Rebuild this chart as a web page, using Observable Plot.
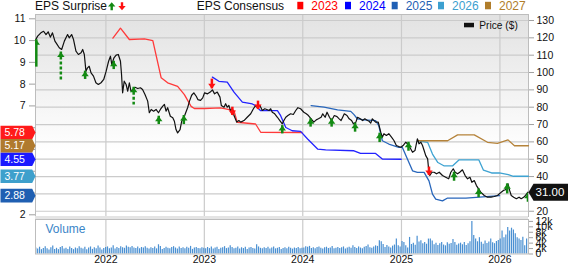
<!DOCTYPE html>
<html><head><meta charset="utf-8">
<script src="https://cdn.jsdelivr.net/npm/d3@7"></script>
<script src="https://cdn.jsdelivr.net/npm/@observablehq/plot@0.6"></script>
<style>
body{margin:0;background:#fff;}
#wrap{position:relative;width:568px;height:264px;overflow:hidden;}
#wrap svg{position:absolute;left:0;}
</style></head><body><div id="wrap"></div>
<script>
// ---------------- DATA ----------------
const price = [["2021-04-16",119.0],["2021-04-23",121.0],["2021-05-05",122.9],["2021-05-15",123.8],["2021-05-24",121.9],["2021-06-01",123.5],["2021-06-09",120.4],["2021-06-17",122.9],["2021-06-26",118.1],["2021-07-04",116.2],["2021-07-12",114.3],["2021-07-21",113.3],["2021-07-31",118.1],["2021-08-06",120.0],["2021-08-12",121.9],["2021-08-18",120.0],["2021-08-27",121.9],["2021-09-03",119.0],["2021-09-12",112.3],["2021-09-21",110.4],["2021-10-01",111.4],["2021-10-07",113.3],["2021-10-13",110.4],["2021-10-19",100.8],["2021-10-25",102.7],["2021-10-31",103.6],["2021-11-07",99.8],["2021-11-16",97.9],["2021-11-25",94.1],["2021-12-04",93.1],["2021-12-14",94.1],["2021-12-24",96.0],["2022-01-02",100.8],["2022-01-11",106.5],["2022-01-18",109.4],["2022-01-23",104.6],["2022-01-31",108.5],["2022-02-08",110.0],["2022-02-16",110.4],["2022-02-24",106.5],["2022-02-28",98.9],["2022-03-04",88.3],["2022-03-10",95.0],["2022-03-17",93.1],["2022-03-23",89.2],["2022-03-29",94.1],["2022-04-04",89.2],["2022-04-12",90.2],["2022-04-19",91.5],["2022-04-29",90.8],["2022-05-09",91.2],["2022-05-17",90.2],["2022-05-26",87.3],["2022-06-05",83.5],["2022-06-11",76.8],["2022-06-18",78.7],["2022-06-27",77.7],["2022-07-06",78.7],["2022-07-15",76.8],["2022-07-22",78.7],["2022-07-31",80.6],["2022-08-06",81.6],["2022-08-12",77.7],["2022-08-18",79.7],["2022-08-28",74.8],["2022-09-06",73.9],["2022-09-12",71.9],["2022-09-18",67.1],["2022-09-24",65.2],["2022-10-03",67.1],["2022-10-09",71.9],["2022-10-17",73.9],["2022-10-26",77.7],["2022-10-31",79.7],["2022-11-07",83.5],["2022-11-15",86.9],["2022-11-23",88.3],["2022-12-02",86.3],["2022-12-08",84.4],["2022-12-18",83.9],["2022-12-26",85.4],["2023-01-02",88.3],["2023-01-13",87.7],["2023-01-23",88.7],["2023-01-31",90.0],["2023-02-08",87.7],["2023-02-18",88.7],["2023-02-28",85.8],["2023-03-05",81.0],["2023-03-15",80.0],["2023-03-21",82.0],["2023-03-27",80.0],["2023-04-02",81.0],["2023-04-08",78.1],["2023-04-15",79.1],["2023-04-21",75.2],["2023-05-01",71.4],["2023-05-09",72.3],["2023-05-16",71.4],["2023-05-28",72.3],["2023-06-09",74.2],["2023-06-22",76.2],["2023-07-02",79.1],["2023-07-10",81.0],["2023-07-17",80.0],["2023-07-26",81.0],["2023-08-04",78.1],["2023-08-13",79.1],["2023-08-23",78.5],["2023-08-29",78.1],["2023-09-04",79.1],["2023-09-10",77.1],["2023-09-19",76.2],["2023-09-29",74.2],["2023-10-08",72.3],["2023-10-17",70.4],["2023-10-23",72.3],["2023-10-30",74.2],["2023-11-07",75.2],["2023-11-17",76.2],["2023-11-27",75.8],["2023-12-06",78.1],["2023-12-14",79.7],["2023-12-24",79.1],["2024-01-05",77.1],["2024-01-14",76.2],["2024-01-22",75.2],["2024-02-01",73.3],["2024-02-11",71.4],["2024-02-20",72.7],["2024-02-28",73.3],["2024-03-09",74.2],["2024-03-15",76.2],["2024-03-24",74.2],["2024-03-31",77.1],["2024-04-09",74.2],["2024-04-17",72.3],["2024-04-27",75.2],["2024-05-07",74.6],["2024-05-15",73.3],["2024-05-22",72.3],["2024-05-28",74.2],["2024-06-03",76.2],["2024-06-13",75.2],["2024-06-21",73.3],["2024-06-30",72.3],["2024-07-07",70.4],["2024-07-16",71.4],["2024-07-22",74.2],["2024-08-01",73.3],["2024-08-10",72.3],["2024-08-18",73.3],["2024-08-28",72.3],["2024-09-03",71.9],["2024-09-09",70.8],["2024-09-15",73.3],["2024-09-27",71.4],["2024-10-07",71.4],["2024-10-16",65.6],["2024-10-22",62.7],["2024-10-28",64.7],["2024-11-06",63.7],["2024-11-15",64.7],["2024-11-25",62.7],["2024-12-04",60.8],["2024-12-13",57.9],["2024-12-22",57.3],["2024-12-30",56.9],["2025-01-07",57.9],["2025-01-17",59.8],["2025-01-23",58.9],["2025-02-01",56.9],["2025-02-11",54.0],["2025-02-20",55.0],["2025-03-01",61.8],["2025-03-07",58.9],["2025-03-14",59.8],["2025-03-20",57.9],["2025-03-26",55.0],["2025-04-01",52.1],["2025-04-08",50.2],["2025-04-11",45.4],["2025-04-16",40.6],["2025-04-24",42.5],["2025-05-02",42.5],["2025-05-11",41.6],["2025-05-21",42.5],["2025-06-02",40.6],["2025-06-14",39.6],["2025-06-25",38.7],["2025-07-03",42.5],["2025-07-12",44.5],["2025-07-19",42.5],["2025-07-28",41.6],["2025-08-05",42.5],["2025-08-15",43.9],["2025-08-25",40.6],["2025-09-03",38.7],["2025-09-12",39.6],["2025-09-19",36.7],["2025-09-28",37.7],["2025-10-06",34.8],["2025-10-14",32.9],["2025-10-22",31.0],["2025-11-04",29.1],["2025-11-16",28.1],["2025-11-29",28.1],["2025-12-11",28.5],["2025-12-23",29.1],["2026-01-06",31.0],["2026-01-14",32.0],["2026-01-22",32.4],["2026-01-31",35.8],["2026-02-06",32.0],["2026-02-12",29.1],["2026-02-21",28.1],["2026-03-03",27.2],["2026-03-13",28.1],["2026-03-21",27.2],["2026-03-30",28.1],["2026-04-06",29.1],["2026-04-15",31.0]];
const lastPrice = 31.00;

const eps2023 = [["2022-01-27",10.11],["2022-02-24",10.57],["2022-03-29",10.05],["2022-05-24",10.08],["2022-06-24",10.0],["2022-07-25",8.29],["2022-08-18",8.06],["2022-09-24",7.9],["2022-10-19",7.52],["2022-11-13",6.98],["2022-11-25",6.88],["2023-01-02",6.88],["2023-03-02",6.91],["2023-03-21",6.86],["2023-04-21",6.78],["2023-05-03",6.25],["2023-07-10",6.17],["2023-07-29",5.79],["2023-12-29",5.78]];
const eps2024 = [["2023-01-31",8.32],["2023-02-24",8.13],["2023-03-27",8.09],["2023-04-21",7.63],["2023-05-22",7.17],["2023-06-28",7.09],["2023-07-10",7.01],["2023-07-29",6.78],["2023-09-29",6.78],["2023-10-11",6.55],["2023-10-30",6.01],["2023-11-23",5.86],["2023-12-24",5.83],["2024-01-19",5.48],["2024-02-25",5.02],["2024-03-26",4.98],["2024-07-09",4.94],["2024-08-02",4.82],["2024-09-27",4.82],["2024-10-22",4.56],["2024-12-31",4.55]];
const eps2025 = [["2024-02-01",7.01],["2024-03-20",6.94],["2024-05-09",6.82],["2024-06-27",6.75],["2024-07-09",6.60],["2024-07-22",6.40],["2024-08-15",6.36],["2024-09-27",6.32],["2024-10-09",6.09],["2024-10-22",5.40],["2024-11-15",5.25],["2024-12-22",5.10],["2025-01-04",5.10],["2025-01-23",4.56],["2025-02-11",4.02],["2025-03-01",3.95],["2025-03-26",3.95],["2025-04-13",3.56],["2025-04-26",2.95],["2025-05-08",2.72],["2025-06-02",2.64],["2025-06-21",2.77],["2025-08-28",2.77],["2025-12-31",2.88]];
const eps2026 = [["2025-03-03",5.40],["2025-04-08",5.33],["2025-04-26",4.79],["2025-05-16",4.40],["2025-06-07",4.25],["2025-07-10",4.25],["2025-08-02",4.52],["2025-10-15",4.52],["2025-11-01",4.05],["2025-12-01",3.92],["2025-12-30",3.92],["2026-02-01",3.84],["2026-02-20",3.77],["2026-04-17",3.77]];
const eps2027 = [["2025-03-03",5.40],["2025-06-21",5.40],["2025-07-28",5.67],["2025-09-28",5.67],["2025-11-16",5.33],["2025-12-23",5.28],["2026-01-31",5.44],["2026-02-24",5.17],["2026-04-17",5.17]];

const consensusYears = ["2023","2024","2025","2026","2027"];
const consensusLatest = [5.78, 4.55, 2.88, 3.77, 5.17];

const surpriseDates = ["2021-04-18","2021-07-18","2021-10-16","2022-01-30","2022-04-14","2022-07-16","2022-10-17","2023-01-29","2023-04-15","2023-07-19","2023-10-17","2024-01-30","2024-04-17","2024-07-13","2024-10-12","2025-01-27","2025-04-13","2025-07-15","2025-10-14","2026-01-28","2026-04-15"];
const surpriseDir = ["up","up","up","up","up","up","up","down","down","down","up","up","up","up","up","up","down","up","up","up","up"];
const surpriseTip = [118.9,111.9,100.8,106.5,91.5,74.8,75.2,90.6,75.2,78.7,69.4,73.3,73.3,70.8,65.0,59.8,40.6,42.5,32.9,35.8,30.4];
const surpriseBase = [103.1,95.6,96.0,101.7,81.2,70.0,70.0,96.2,80.0,83.5,64.6,68.5,68.5,65.6,59.6,54.6,45.5,37.3,27.8,30.0,25.2];
const surpriseDashed = [false,true,false,false,true,false,false,false,false,false,false,false,false,false,false,false,false,false,false,false,false];

const volumeStart = "2021-04-16"; // weekly bars (Fridays), thousands
const vol2021 = [2.2,1.8,2.5,1.6,2.0,2.7,1.9,1.5,2.3,2.9,1.7,2.1,1.6,2.4,2.8,1.8,2.1,1.7,2.6,2.0,1.6,2.2,1.9,2.7,2.1,1.8,2.5,1.6,2.2,2.6,1.7,2.3,1.9,2.9,2.2,1.5,2.0,2.4];
const vol2022 = [2.6,1.9,2.2,3.0,1.8,2.4,2.0,2.7,2.3,2.1,2.9,2.5,2.3,2.8,2.2,2.0,2.6,1.9,2.4,2.2,2.7,2.1,1.8,2.3,2.0,2.6,1.9,3.4,2.8,1.7,2.0,2.5,2.1,1.9,2.4,2.7,2.2,1.8,2.6,2.0,2.3,1.9,2.5,2.1,2.8,1.7,2.2,2.4,2.0,1.9,2.3,2.1];
const vol2023 = [1.9,2.4,2.0,2.6,1.8,2.2,2.5,1.7,2.1,2.3,2.7,2.0,2.2,3.0,2.4,1.9,2.1,2.6,1.8,2.3,2.0,2.5,1.7,2.2,2.4,2.0,1.8,3.4,2.6,2.1,1.9,2.3,2.0,2.5,1.8,2.2,2.6,1.9,2.1,2.4,1.7,2.0,2.3,1.9,2.5,2.1,1.8,2.2,2.0,2.4,1.9,2.1];
const vol2024 = [2.2,2.7,2.5,2.8,2.0,2.3,1.9,2.4,2.6,2.1,1.8,2.3,2.5,2.0,2.2,2.8,1.9,2.1,2.4,2.0,2.3,2.6,1.8,2.2,2.5,2.1,3.0,2.4,2.0,2.6,2.2,1.9,2.5,2.8,3.3,2.3,2.1,2.6,3.0,2.8,4.9,4.5,3.5,2.4,3.1,2.6,2.2,2.9,3.3,5.5,3.0,2.6];
const vol2025 = [4.6,4.2,3.0,2.2,6.1,3.5,4.0,3.2,6.5,4.4,4.9,3.8,4.2,3.6,5.5,5.5,4.8,3.4,4.0,3.1,3.8,4.2,3.3,3.0,4.1,3.6,3.9,5.3,4.2,3.2,3.7,4.0,3.4,4.2,3.1,3.8,4.5,12.0,6.8,5.5,4.5,6.0,4.3,3.6,4.8,3.9,4.4,5.5,4.1,3.8,4.6,5.0];
const vol2026 = [5.5,8.5,6.0,7.0,9.8,8.5,9.5,8.8,7.5,6.0,5.5,5.0,6.2,3.0,5.5];

const epsTicks = [2,3,4,5,6,7,8,9,10,11];
const priceTicks = [20,30,40,50,60,70,80,90,100,110,120,130];
const volumeTicks = [0,2,4,6,8,10,12];
const yearTicks = ["2022-01-01","2023-01-01","2024-01-01","2025-01-01","2026-01-01"];

// ---------------- STYLE / LAYOUT ----------------
const FONT = '"Liberation Sans", Arial, Helvetica, sans-serif';
const GREEN = "#138a13", RED = "#ff1010";
const lineColors = {"2023":"#ff3a3a","2024":"#2323ff","2025":"#2866bb","2026":"#3ea3d2","2027":"#b5833a"};
const tagColors = {"2023":"#ff1a1a","2024":"#1a1aff","2025":"#1f5fb2","2026":"#3ea0cc","2027":"#b07a2e"};
const legendColors = {"2023":"#ff0000","2024":"#0000ff","2025":"#1f5fb4","2026":"#3ca0d0","2027":"#b07d2b"};
const GRID = "#cbcbcb";

const xDomain = [new Date("2021-04-15"), new Date("2026-04-17")];
const years = yearTicks.map(d => new Date(d));
// left EPS axis is drawn on the price scale
const eps0 = 17.95, epsK = 12.559;
const epsToPrice = e => eps0 + (e - 2) * epsK;
const priceToEps = p => (p - eps0) / epsK + 2;
// labels hidden behind the value tags in the reference
const hiddenEps = [3,4,5,6];
const hiddenPrice = [30];

const priceData = price.map(([d, v]) => ({date: new Date(d), v}));
const consensus = {"2023": eps2023, "2024": eps2024, "2025": eps2025, "2026": eps2026, "2027": eps2027};
const arrows = surpriseDates.map((d, i) => ({date: new Date(d), dir: surpriseDir[i], tip: surpriseTip[i], base: surpriseBase[i], dashed: surpriseDashed[i]}));

const vDates = d3.utcFriday.range(new Date(volumeStart), new Date("2026-04-12"));
const vVals = [].concat(vol2021, vol2022, vol2023, vol2024, vol2025, vol2026);
const volData = vDates.slice(0, vVals.length).map((d, i) => ({date: d, v: vVals[i]}));

const upHead = {draw(c){ c.moveTo(0,0); c.lineTo(3.7,5); c.lineTo(-3.7,5); c.closePath(); }};
const downHead = {draw(c){ c.moveTo(0,0); c.lineTo(3.7,-5); c.lineTo(-3.7,-5); c.closePath(); }};
const leftTag = {draw(c){ c.moveTo(-17.5,-6.8); c.lineTo(14.2,-6.8); c.lineTo(17.5,0); c.lineTo(14.2,6.8); c.lineTo(-17.5,6.8); c.closePath(); }};
const rightTag = {draw(c){ c.moveTo(0,0); c.lineTo(5,-8.5); c.lineTo(50,-8.5); c.lineTo(50,8.5); c.lineTo(5,8.5); c.closePath(); }};

function background(index, scales, values, dims) {
  const g = d3.create("svg:g");
  const grad = g.append("defs").append("linearGradient").attr("id","bgGrad")
    .attr("x1",0).attr("x2",0).attr("y1",0).attr("y2",1);
  grad.append("stop").attr("offset","0%").attr("stop-color","#e2e2e2");
  grad.append("stop").attr("offset","68%").attr("stop-color","#ffffff");
  g.append("rect").attr("x",dims.marginLeft).attr("y",dims.marginTop)
    .attr("width",dims.width-dims.marginLeft-dims.marginRight)
    .attr("height",dims.height-dims.marginTop-dims.marginBottom)
    .attr("fill","url(#bgGrad)");
  return g.node();
}

const baseStyle = {background:"transparent", fontFamily: FONT, fontSize:"10.5px", color:"#111", overflow:"visible"};

const lineMarks = consensusYears.map(y => Plot.line(consensus[y], {
  x: d => new Date(d[0]), y: d => epsToPrice(d[1]), stroke: lineColors[y], strokeWidth: 1.3
}));

const tagMarks = consensusYears.flatMap((y, i) => [
  Plot.dot([consensusLatest[i]], {y: d => epsToPrice(d), frameAnchor: "left", dx: -17.5, symbol: leftTag, r: 5, fill: tagColors[y]}),
  Plot.text([consensusLatest[i]], {y: d => epsToPrice(d), frameAnchor: "left", dx: -31, text: d => d.toFixed(2), textAnchor: "start", fill: "white", fontSize: 10.5})
]);

const ups = arrows.filter(a => a.dir === "up"), downs = arrows.filter(a => a.dir === "down");

const main = Plot.plot({
  width: 568, height: 217,
  marginTop: 14, marginBottom: 1, marginLeft: 35, marginRight: 40,
  x: {type: "utc", domain: xDomain, axis: null},
  y: {domain: [16.97, 133.46], axis: null},
  style: baseStyle,
  marks: [
    background,
    Plot.ruleY(priceTicks, {stroke: GRID, strokeWidth: 1.2}),
    Plot.ruleX(years, {stroke: GRID, strokeWidth: 1.2}),
    Plot.frame({stroke: "#bdbdbd"}),
    ...lineMarks,
    Plot.line(priceData, {x: "date", y: "v", stroke: "#111", strokeWidth: 1.2}),
    Plot.ruleX(arrows.filter(a => !a.dashed), {x: "date", y1: "tip", y2: "base", stroke: d => d.dir === "up" ? GREEN : RED, strokeWidth: 2.5, clip: "frame"}),
    Plot.ruleX(arrows.filter(a => a.dashed), {x: "date", y1: "tip", y2: "base", stroke: GREEN, strokeWidth: 2.5, strokeDasharray: "3,2", clip: "frame"}),
    Plot.dot(ups, {x: "date", y: "tip", symbol: upHead, r: 3, fill: GREEN, clip: "frame"}),
    Plot.dot(downs, {x: "date", y: "tip", symbol: downHead, r: 3, fill: RED, clip: "frame"}),
    Plot.axisY(epsTicks.map(epsToPrice), {anchor: "left", tickSize: 6, tickPadding: 4, stroke: "#a0a0a0", fill: "#111",
      tickFormat: d => { const e = Math.round(priceToEps(d)); return hiddenEps.includes(e) ? "" : String(e); }, label: null, fontSize: 10.5}),
    Plot.axisY(priceTicks, {anchor: "right", tickSize: 5, tickPadding: 3, stroke: "#a0a0a0", fill: "#111", label: null, fontSize: 10.5,
      tickFormat: d => hiddenPrice.includes(d) ? "" : String(d)}),
    ...tagMarks,
    Plot.dot([lastPrice], {y: d => d, frameAnchor: "right", symbol: rightTag, r: 5, fill: "#111"}),
    Plot.text([lastPrice], {y: d => d, frameAnchor: "right", dx: 7, text: d => d.toFixed(2), textAnchor: "start", fill: "white", fontSize: 11.5})
  ]
});
main.style.position = "absolute"; main.style.top = "0px";

const vol = Plot.plot({
  width: 568, height: 48,
  marginTop: 3, marginBottom: 10.5, marginLeft: 35, marginRight: 40,
  x: {type: "utc", domain: xDomain, axis: null},
  y: {domain: [0, 12.7], axis: null},
  style: baseStyle,
  marks: [
    Plot.ruleX(years, {stroke: GRID, strokeWidth: 1.2}),
    Plot.ruleX(volData, {x: "date", y1: 0, y2: "v", stroke: "#4a90d2", strokeWidth: 1.2}),
    Plot.frame({stroke: "#bdbdbd"}),
    Plot.text(["Volume"], {frameAnchor: "top-left", dx: 10, dy: 10, text: d => d, textAnchor: "start", lineAnchor: "middle", fill: "#3a85c8", fontSize: 12}),
    Plot.axisX(years, {anchor: "bottom", tickSize: 0, tickPadding: 2, tickFormat: d3.utcFormat("%Y"), label: null, fill: "#111", fontSize: 10.5}),
    Plot.axisY(volumeTicks, {anchor: "right", tickSize: 4, tickPadding: 3, stroke: "#a0a0a0", fill: "#111",
      tickFormat: d => d === 0 ? "0" : d + "k", label: null, fontSize: 10.5})
  ]
});
vol.style.position = "absolute"; vol.style.top = "216px";

const wrap = document.getElementById("wrap");
const sep = document.createElement("div");
sep.style.cssText = "position:absolute;left:35px;top:216px;width:493px;height:3px;background:#e4e4e4;";
wrap.appendChild(main);
wrap.appendChild(sep);
wrap.appendChild(vol);

// ---------------- HEADER / LEGENDS ----------------
const hdr = d3.select(wrap).append("svg").attr("width", 568).attr("height", 264)
  .style("top","0px").style("pointer-events","none").attr("font-family", FONT);
hdr.append("text").attr("x", 35).attr("y", 10).attr("font-size", 12).attr("fill","#111").text("EPS Surprise");
hdr.append("path").attr("d","M111.7,2.3 L115.4,6.6 L112.9,6.6 L112.9,10.2 L110.5,10.2 L110.5,6.6 L108,6.6 Z").attr("fill", GREEN);
hdr.append("path").attr("d","M122,10.2 L125.7,5.9 L123.2,5.9 L123.2,2.3 L120.8,2.3 L120.8,5.9 L118.3,5.9 Z").attr("fill", RED);
hdr.append("text").attr("x", 196.7).attr("y", 10).attr("font-size", 12).attr("fill","#111").text("EPS Consensus");
const legendX = [297.3, 345, 391.7, 438, 485];
consensusYears.forEach((y, i) => {
  hdr.append("rect").attr("x", legendX[i]).attr("y", 1.8).attr("width", 6).attr("height", 7.5).attr("fill", legendColors[y]);
  hdr.append("text").attr("x", legendX[i] + 14).attr("y", 10).attr("font-size", 12).attr("fill", legendColors[y]).text(y);
});
hdr.append("rect").attr("x", 464).attr("y", 22.8).attr("width", 10).attr("height", 4.5).attr("fill", "#111");
hdr.append("text").attr("x", 479.3).attr("y", 29.3).attr("font-size", 10.2).attr("fill","#111").text("Price ($)");
</script>
</body></html>
